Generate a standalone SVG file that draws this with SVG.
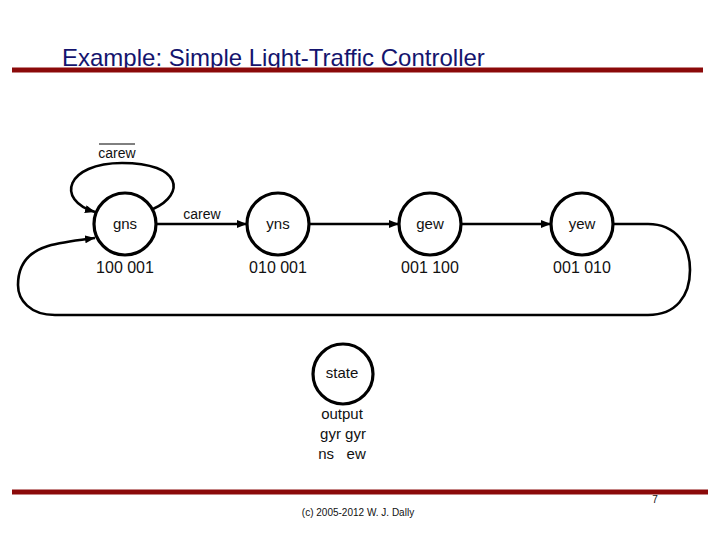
<svg xmlns="http://www.w3.org/2000/svg" width="720" height="540" viewBox="0 0 720 540">
<style>
  text { font-family: "Liberation Sans", Arial, sans-serif; fill: #111; }
  .title { font-size: 24px; fill: #14146e; }
  .node { fill: #fff; stroke: #000; stroke-width: 3.2; }
  .lbl { font-size: 15px; text-anchor: middle; }
  .out { font-size: 16px; text-anchor: middle; }
  .edge { fill: none; stroke: #000; stroke-width: 2.6; }
  .bar { stroke: #8b0a0a; stroke-width: 5; }
  .small { font-size: 10px; }
</style>
<defs>
  <marker id="arr" viewBox="0 0 10 8" refX="10" refY="4" markerWidth="10" markerHeight="8" markerUnits="userSpaceOnUse" orient="auto">
    <path d="M0,0 L10,4 L0,8 z" fill="#000"/>
  </marker>
</defs>
<rect width="720" height="540" fill="#fff"/>
<g id="header">
  <text class="title" x="62" y="66">Example: Simple Light-Traffic Controller</text>
  <line class="bar" x1="12" y1="70" x2="703" y2="70"/>
</g>
<g id="connectors">
  <path class="edge" marker-end="url(#arr)" d="M153,209 C186,194 182,163 122,163 C66,163 55,200 95,212"/>
  <path class="edge" marker-end="url(#arr)" d="M156,224 L247,224"/>
  <path class="edge" marker-end="url(#arr)" d="M309,224 L399,224"/>
  <path class="edge" marker-end="url(#arr)" d="M461,224 L551,224"/>
  <path class="edge" marker-end="url(#arr)" d="M613,224 L648,224 C676,224 690,245 690,270 C690,296 676,315 648,315 L55,315 C30,315 18,300 18,285 C18,265 28,252 48,246 C62,242 80,240 95,238"/>
</g>
<g id="edge-labels">
  <text class="lbl" x="117" y="158" style="font-size:14px">carew</text>
  <line x1="99" y1="144" x2="135" y2="144" stroke="#000" stroke-width="1"/>
  <text class="lbl" x="202" y="219" style="font-size:14px">carew</text>
</g>
<g id="gns">
  <circle class="node" cx="125" cy="224" r="31"/>
  <text class="lbl" x="125" y="229">gns</text>
  <text class="out" x="125" y="273">100 001</text>
</g>
<g id="yns">
  <circle class="node" cx="278" cy="224" r="31"/>
  <text class="lbl" x="278" y="229">yns</text>
  <text class="out" x="278" y="273">010 001</text>
</g>
<g id="gew">
  <circle class="node" cx="430" cy="224" r="31"/>
  <text class="lbl" x="430" y="229">gew</text>
  <text class="out" x="430" y="273">001 100</text>
</g>
<g id="yew">
  <circle class="node" cx="582" cy="224" r="31"/>
  <text class="lbl" x="582" y="229">yew</text>
  <text class="out" x="582" y="273">001 010</text>
</g>
<g id="state">
  <circle class="node" cx="343" cy="374" r="30"/>
  <text class="lbl" x="342" y="378">state</text>
  <text class="lbl" x="342" y="419">output</text>
  <text class="lbl" x="343" y="439">gyr gyr</text>
  <text class="lbl" x="342" y="459" xml:space="preserve" style="white-space:pre">ns   ew</text>
</g>
<g id="footer">
  <line class="bar" x1="12" y1="492" x2="708" y2="492"/>
  <text class="small" x="358" y="516" text-anchor="middle">(c) 2005-2012 W. J. Dally</text>
  <text class="small" x="655" y="503" text-anchor="middle">7</text>
</g>
</svg>
